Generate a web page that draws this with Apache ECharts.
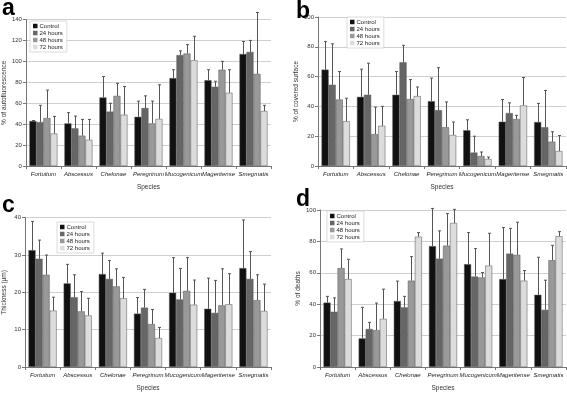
<!DOCTYPE html>
<html><head><meta charset="utf-8">
<script src="https://cdn.jsdelivr.net/npm/echarts@6/dist/echarts.min.js"></script>
<style>html,body{margin:0;padding:0;background:#fff}#c{width:567px;height:393px}</style>
</head><body><div id="c"></div>
<script>
const species = ['Fortuitum','Abscessus','Chelonae','Peregrinum','Mucogenicum','Mageritense','Smegmatis'];
const groups = ['Control','24 hours','48 hours','72 hours'];

// Panel a: % of autofluorescence (mean, upper error end)
const aControl = [43,40.7,65.5,47,84,82,107];
const aControlHi = [43.5,51,85.6,62,92,92,119];
const a24 = [42,36,52,55.4,106,75.7,109];
const a24Hi = [58,47.7,60,67,110,81,120];
const a48 = [45.8,29,67,40.7,107.5,92,88];
const a48Hi = [72.5,44.5,79,62,116,100,146.7];
const a72 = [31,25,49,45,101,70,52.5];
const a72Hi = [47.4,44.5,76,77.6,124,92,58];

// Panel b: % of covered surface
const bControl = [64.7,46.4,47.8,43.5,24,29.7,29.5];
const bControlHi = [83.5,65,63.4,59,31,44.6,42];
const b24 = [54.5,47.8,69.6,37.5,9,35.5,26];
const b24Hi = [82,69,81,66,20,42.4,50.7];
const b48 = [44.6,21.4,44.9,26,6.7,31.5,16.3];
const b48Hi = [63.4,39.5,58,43,9.4,34,23];
const b72 = [30,27,46.9,20.8,4.7,40.6,10];
const b72Hi = [45.5,40,53,29.5,6,59.4,20.5];

// Panel c: Thickness (µm)
const cControl = [31.3,22.4,24.9,14.3,19.9,15.6,26.5];
const cControlHi = [39,27.5,30.5,18.6,29.3,23.8,39.4];
const c24 = [29,18.7,23.6,15.9,18.1,14.5,23.6];
const c24Hi = [34,24.7,28.5,20.8,26.4,23.2,30.9];
const c48 = [24.7,14.9,21.6,11.5,20.4,16.5,17.9];
const c48Hi = [30,20.2,26.3,15.4,29.3,26.3,24.7];
const c72 = [15.1,13.8,18.4,7.75,16.7,16.8,15];
const c72Hi = [18.7,18.4,24,10.6,23.3,25,22.2];

// Panel d: % of deaths
const dControl = [41,18.2,42,77,65.5,56,46];
const dControlHi = [45,38,54.7,101,85.6,88.8,69.9];
const d24 = [35.2,24.2,38,69,57.6,72.2,36.4];
const d24Hi = [44,28.4,45,86.7,75.4,88.3,55.3];
const d48 = [63,23.5,55,77.3,57,71.4,68];
const d48Hi = [75.2,40.7,70.3,97.7,60.2,92.2,77.5];
const d72 = [56,30.7,83,91.7,64.6,55,83.3];
const d72Hi = [68.6,49.6,85.6,100.4,85.2,61.4,86.2];

const panels = [
  {letter:'a', yName:'% of autofluorescence', max:140, interval:20, means:[aControl,a24,a48,a72], his:[aControlHi,a24Hi,a48Hi,a72Hi],
   grid:{left:23,top:19.5,right:296,bottom:227}, nameGap:18, yGap:17, legend:{left:30,top:21}, title:{left:2,top:-3}},
  {letter:'b', yName:'% of covered surface', max:100, interval:20, means:[bControl,b24,b48,b72], his:[bControlHi,b24Hi,b48Hi,b72Hi],
   grid:{left:318,top:17,right:1,bottom:227}, nameGap:18, yGap:16, legend:{left:347,top:17}, title:{left:296,top:0}},
  {letter:'c', yName:'Thickness (µm)', max:40, interval:10, means:[cControl,c24,c48,c72], his:[cControlHi,c24Hi,c48Hi,c72Hi],
   grid:{left:23,top:217.7,right:296,bottom:26}, nameGap:18, yGap:17, legend:{left:57,top:222}, title:{left:2,top:194}},
  {letter:'d', yName:'% of deaths', max:100, interval:20, means:[dControl,d24,d48,d72], his:[dControlHi,d24Hi,d48Hi,d72Hi],
   grid:{left:320,top:210,right:1,bottom:26}, nameGap:18, yGap:16, legend:{left:327,top:211}, title:{left:296,top:188}}
];
const colors = ['#111111','#666666','#999999','#dcdcdc'];
const FONT = 'Liberation Sans, Arial, sans-serif';

function errRender(gi){
  return function(params, api){
    const x = api.value(0), lo = api.value(1), hi = api.value(2);
    const p0 = api.coord([x, lo]);
    const p1 = api.coord([x, hi]);
    const cw = api.size([1,0])[0];
    const cx = Math.round(p0[0] + (-0.3 + 0.2*gi)*cw) + 0.5;
    const cap = 1.5;
    return {type:'group', children:[
      {type:'line', shape:{x1:cx,y1:p0[1],x2:cx,y2:p1[1]}, style:{stroke:'#555',lineWidth:1}},
      {type:'line', shape:{x1:cx-cap,y1:p1[1],x2:cx+cap,y2:p1[1]}, style:{stroke:'#555',lineWidth:1}}
    ]};
  };
}

const option = {animation:false, backgroundColor:'#fff', textStyle:{fontFamily:FONT},
  title:[], grid:[], xAxis:[], yAxis:[], legend:[], series:[]};

panels.forEach((p, pi) => {
  option.title.push({text:p.letter, left:p.title.left, top:p.title.top, padding:0,
    textStyle:{fontSize:23, fontWeight:'bold', color:'#000', fontFamily:FONT}});
  option.grid.push(Object.assign({containLabel:false}, p.grid));
  option.xAxis.push({type:'category', gridIndex:pi, data:species, boundaryGap:true,
    name:'Species', nameLocation:'middle', nameGap:p.nameGap,
    nameTextStyle:{fontSize:6.5, color:'#333', fontFamily:FONT},
    axisLine:{lineStyle:{color:'#777', width:1}},
    axisTick:{show:true, length:3, lineStyle:{color:'#777'}},
    axisLabel:{fontSize:6, fontStyle:'italic', color:'#222', margin:5, interval:0, fontFamily:FONT}});
  option.yAxis.push({type:'value', gridIndex:pi, min:0, max:p.max, interval:p.interval,
    name:p.yName, nameLocation:'middle', nameGap:p.yGap, nameRotate:90,
    nameTextStyle:{fontSize:6.5, color:'#333', fontFamily:FONT},
    axisLine:{show:true, lineStyle:{color:'#777', width:1}},
    axisTick:{show:true, length:3, lineStyle:{color:'#777'}},
    axisLabel:{fontSize:6, color:'#333', margin:4, fontFamily:FONT},
    splitLine:{show:true, lineStyle:{color:'#cfcfcf', width:1}}});
  option.legend.push({orient:'vertical', left:p.legend.left, top:p.legend.top, data:groups,
    itemWidth:4.5, itemHeight:4.5, itemGap:1, padding:[2,4,2,3],
    borderColor:'#cccccc', borderWidth:0.7, backgroundColor:'#fff',
    itemStyle:{borderWidth:0},
    textStyle:{fontSize:6, lineHeight:6, color:'#222', padding:[0,0,0,-3], fontFamily:FONT}, icon:'rect'});
  groups.forEach((g, gi) => {
    option.series.push({type:'bar', name:g, xAxisIndex:pi, yAxisIndex:pi, data:p.means[gi],
      barGap:'0%', barCategoryGap:'20%',
      itemStyle:{color:colors[gi], borderColor:'#555', borderWidth:0.5}, z:2});
  });
  groups.forEach((g, gi) => {
    option.series.push({type:'custom', name:g+' err', xAxisIndex:pi, yAxisIndex:pi, clip:false, z:3,
      renderItem:errRender(gi), encode:{x:0, y:[1,2]},
      data:p.means[gi].map((v,i)=>[i, v, p.his[gi][i]])});
  });
});

const chart = echarts.init(document.getElementById('c'), null, {renderer:'canvas'});
chart.setOption(option);
</script></body></html>
